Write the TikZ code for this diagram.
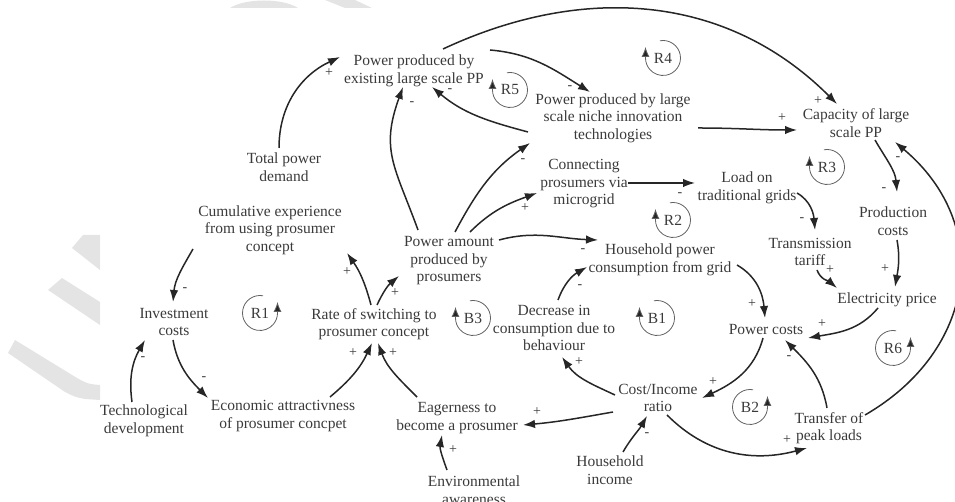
\documentclass[tikz,border=0pt]{standalone}
\usepackage{fontspec}
\setmainfont{Liberation Serif}
\usetikzlibrary{calc,arrows.meta}
\definecolor{txt}{HTML}{3A3A3A}
\definecolor{ln}{HTML}{262626}
\definecolor{wm}{HTML}{E4E4E4}
\tikzset{
 var/.style={align=center, inner sep=1pt, text=txt, font=\fontsize{15.5}{17.5}\selectfont},
 sgn/.style={inner sep=0pt, text=txt, font=\fontsize{14}{14}\selectfont},
 arr/.style={draw=ln, line width=1.5pt, -{Latex[length=12pt,width=8.5pt]}},
 lbl/.style={inner sep=0pt, text=txt, font=\fontsize{15.5}{17.5}\selectfont},
 larc/.style={draw=txt!80, line width=0.8pt, -{Latex[length=10pt,width=8pt,fill=ln]}},
}
\begin{document}
\begin{tikzpicture}[x=1pt,y=1pt]
\useasboundingbox (0,0) rectangle (955,502);
% watermark
\fill[wm] (83,267) -- (100,267) -- (100,232) -- (72,254) -- cycle;
\fill[wm] (62,224) -- (100,200) -- (100,177) -- (48,212) -- cycle;
\fill[wm] (15,162) -- (77,124) .. controls (88,118) .. (100,117) -- (100,102) -- (85,103) .. controls (75,105) .. (65,110) -- (8,149) -- cycle;
\fill[wm] (230,494) .. controls (245,504) and (283,504) .. (298,494) -- cycle;
\fill[wm] (325,502) -- (355,502) -- (372,494) -- (345,494) -- cycle;

% variables
\node[var] (ppe) at (414,431) {Power produced by\\existing large scale PP};
\node[var] (niche) at (613,384) {Power produced by large\\scale niche innovation\\technologies};
\node[var] (cap) at (856,379) {Capacity of large\\scale PP};
\node[var] (tpd) at (284,335) {Total power\\demand};
\node[var] (cum) at (270,272) {Cumulative experience\\from using prosumer\\concept};
\node[var] (inv) at (174,180) {Investment\\costs};
\node[var] (rate) at (374,178) {Rate of switching to\\prosumer concept};
\node[var] (pam) at (449,241) {Power amount\\produced by\\prosumers};
\node[var] (conn) at (584,318) {Connecting\\prosumers via\\microgrid};
\node[var] (load) at (747,314) {Load on\\traditional grids};
\node[var] (hpc) at (660,242) {Household power\\consumption from grid};
\node[var] (tt) at (810,250) {Transmission\\tariff};
\node[var] (pc) at (893,281) {Production\\costs};
\node[var] (ep) at (887,202) {Electricity price};
\node[var] (pco) at (766,172) {Power costs};
\node[var] (dec) at (554,174) {Decrease in\\consumption due to\\behaviour};
\node[var] (cir) at (658,104) {Cost/Income\\ratio};
\node[var] (tpl) at (829,74) {Transfer of\\peak loads};
\node[var] (hin) at (610,32) {Household\\income};
\node[var] (eag) at (457,84) {Eagerness to\\become a prosumer};
\node[var] (env) at (474,12) {Environmental\\awareness};
\node[var] (eco) at (283,86) {Economic attractivness\\of prosumer concpet};
\node[var] (tech) at (144,81) {Technological\\development};

% links
\draw[arr] ($(tpd)+(-5,19)$) to[out=90,in=205] ($(ppe)+(-74,14)$);
\draw[arr] ($(pam)+(-31,31)$) to[out=110,in=250,looseness=1.2] ($(ppe)+(-11,-16)$);
\draw[arr] ($(pam)+(6,29)$) to[out=62,in=215] ($(niche)+(-83,-25)$);
\draw[arr] ($(pam)+(21,29)$) to[out=45,in=200] ($(conn)+(-47,-9)$);
\draw[arr] ($(pam)+(50,21)$) to[out=15,in=178] ($(hpc)+(-62,20)$);
\draw[arr] ($(niche)+(-85,-14)$) to[out=165,in=-40] ($(ppe)+(18,-16)$);
\draw[arr] ($(ppe)+(76,21)$) to[out=-5,in=148] ($(niche)+(-23,26)$);
\draw[arr] ($(ppe)+(29,22)$) to[out=25,in=135,looseness=1] ($(cap)+(-19,19)$);
\draw[arr] ($(niche)+(85,-10)$) to[out=0,in=180] ($(cap)+(-59,-7)$);
\draw[arr] ($(cap)+(19,-17)$) to[out=-60,in=95] ($(pc)+(4,29)$);
\draw[arr] ($(tpl)+(36,13)$) to[out=30,in=-40,looseness=1.2] ($(cap)+(39,-19)$);
\draw[arr] ($(pc)+(4,-19)$) to[out=-80,in=80] ($(ep)+(8,13)$);
\draw[arr] ($(load)+(50,-5)$) to[out=-30,in=95] ($(tt)+(5,22)$);
\draw[arr] ($(conn)+(44,1)$) -- ($(load)+(-52,5)$);
\draw[arr] ($(tt)+(7,-18)$) to[out=-70,in=140] ($(ep)+(-50,12)$);
\draw[arr] ($(ep)+(-9,-8)$) to[out=-130,in=10] ($(pco)+(42,-8)$);
\draw[arr] ($(hpc)+(77,-5)$) to[out=-30,in=95] ($(pco)+(-1,12)$);
\draw[arr] ($(pco)+(-3,-8)$) to[out=-105,in=25] ($(cir)+(44,0)$);
\draw[arr] ($(tpl)+(-2,20)$) to[out=100,in=-45] ($(pco)+(19,-10)$);
\draw[arr] ($(cir)+(9,-17)$) to[out=-45,in=195] ($(tpl)+(-22,-20)$);
\draw[arr] ($(hin)+(13,18)$) to[out=60,in=240] ($(cir)+(-11,-18)$);
\draw[arr] ($(cir)+(-43,3)$) to[out=155,in=-55] ($(dec)+(8,-29)$);
\draw[arr] ($(dec)+(4,28)$) to[out=70,in=210] ($(hpc)+(-73,-7)$);
\draw[arr] ($(cir)+(-45,-14)$) to[out=190,in=5] ($(eag)+(66,-7)$);
\draw[arr] ($(env)+(-27,20)$) to[out=110,in=-100] ($(eag)+(-15,-17)$);
\draw[arr] ($(eag)+(-40,21)$) to[out=135,in=-70] ($(rate)+(4,-19)$);
\draw[arr] ($(eco)+(47,19)$) to[out=40,in=-115] ($(rate)+(-2,-19)$);
\draw[arr] ($(inv)+(-1,-18)$) to[out=-80,in=135] ($(eco)+(-75,18)$);
\draw[arr] ($(tech)+(-12,19)$) to[out=98,in=-120] ($(inv)+(-29,-18)$);
\draw[arr] ($(cum)+(-77,-19)$) to[out=-120,in=85] ($(inv)+(-1,20)$);
\draw[arr] ($(rate)+(-3,19)$) to[out=105,in=-55] ($(cum)+(77,-23)$);
\draw[arr] ($(rate)+(3,19)$) to[out=65,in=-140] ($(pam)+(-50,-15)$);

% polarity signs
\node[sgn] (s1) at (329,429) {+};
\node[sgn] (s2) at (412,398) {-};
\node[sgn] (s3) at (523,341) {-};
\node[sgn] (s4) at (525,294) {+};
\node[sgn] (s5) at (583,251) {-};
\node[sgn] (s6) at (450,411) {-};
\node[sgn] (s7) at (570,414) {-};
\node[sgn] (s8) at (818,401) {+};
\node[sgn] (s9) at (782,384) {+};
\node[sgn] (s10) at (884,312) {-};
\node[sgn] (s11) at (898,343) {-};
\node[sgn] (s12) at (885,233) {+};
\node[sgn] (s13) at (802,282) {-};
\node[sgn] (s14) at (680,307) {-};
\node[sgn] (s15) at (830,232) {+};
\node[sgn] (s16) at (822,178) {+};
\node[sgn] (s17) at (752,198) {+};
\node[sgn] (s18) at (713,120) {+};
\node[sgn] (s19) at (789,144) {-};
\node[sgn] (s20) at (787,62) {+};
\node[sgn] (s21) at (647,67) {-};
\node[sgn] (s22) at (579,140) {+};
\node[sgn] (s23) at (580,215) {-};
\node[sgn] (s24) at (537,90) {+};
\node[sgn] (s25) at (453,52) {+};
\node[sgn] (s26) at (393,149) {+};
\node[sgn] (s27) at (353,149) {+};
\node[sgn] (s28) at (204,123) {-};
\node[sgn] (s29) at (143,143) {-};
\node[sgn] (s30) at (185,212) {-};
\node[sgn] (s31) at (347,230) {+};
\node[sgn] (s32) at (395,209) {+};

% loop markers
\foreach \n/\x/\y in {R5/510/412, R4/663/444, R3/827/335, R2/673/282, B3/473/184, B1/657/184}{
  \node[lbl] (\n) at (\x,\y) {\n};
  \draw[larc] ([shift={(100:17.5)}]\n.center) arc[start angle=100,end angle=-180,radius=17.5] -- ++(0,11);
}
\foreach \n/\x/\y in {R1/260/189, B2/750/95, R6/893/154}{
  \node[lbl] (\n) at (\x,\y) {\n};
  \draw[larc] ([shift={(80:17.5)}]\n.center) arc[start angle=80,end angle=360,radius=17.5] -- ++(0,11);
}
\end{tikzpicture}
\end{document}
